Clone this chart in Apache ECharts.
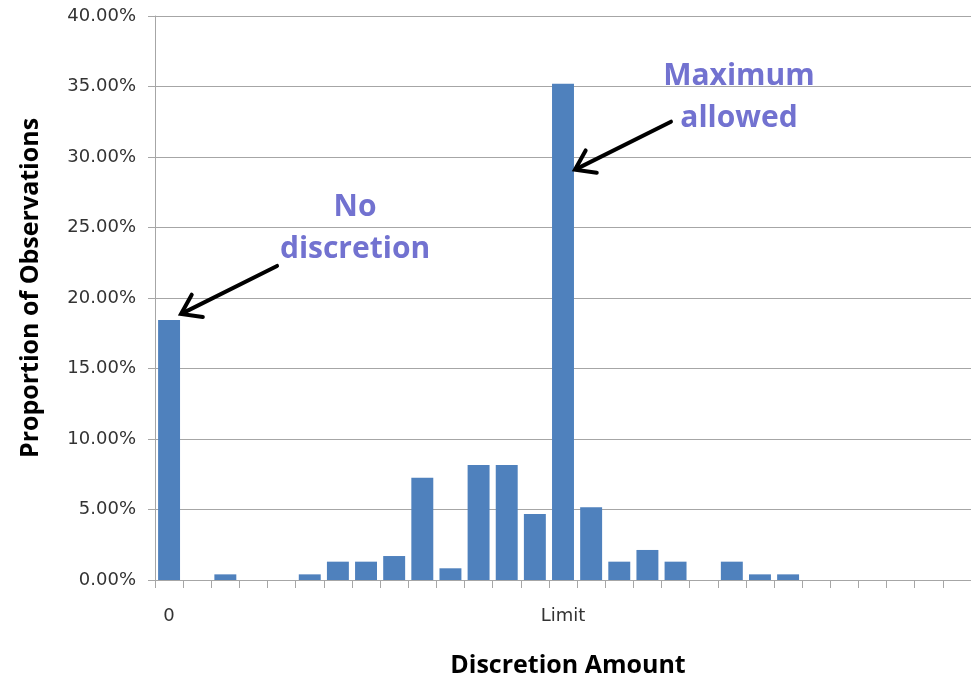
<!DOCTYPE html>
<html>
<head>
<meta charset="utf-8">
<script src="https://cdn.jsdelivr.net/npm/echarts@6/dist/echarts.min.js"></script>
<style>
  html, body { margin: 0; padding: 0; background: #fff; }
  #chart { width: 971px; height: 676px; }
</style>
</head>
<body>
<div id="chart"></div>
<script>
// Bin labels along the discretion axis: only the zero bin and the limit bin are named
const tickLabels = ['0', '', '', '', '', '', '', '', '', '', '', '', '', '', 'Limit',
                    '', '', '', '', '', '', '', '', '', '', '', '', '', ''];
// Share of observations in each bin (percent)
const proportions = [18.44, 0, 0.40, 0, 0, 0.40, 1.30, 1.30, 1.70, 7.26, 0.83, 8.16, 8.16, 4.68, 35.20,
                     5.16, 1.30, 2.13, 1.30, 0, 1.30, 0.40, 0.40, 0, 0, 0, 0, 0, 0];
// Value axis ticks (percent)
const yTicks = [0, 5, 10, 15, 20, 25, 30, 35, 40];

const bins = tickLabels.map((_, i) => 'bin' + i);

const chart = echarts.init(document.getElementById('chart'), null, { renderer: 'canvas' });

const gray = '#a6a6a6';
const labelFont = 'DejaVu Sans';
const boldFont = 'Open Sans';
const noteColor = '#7272d0';

chart.setOption({
  animation: false,
  backgroundColor: '#ffffff',
  grid: { left: 155, right: 0, top: 16, bottom: 96, containLabel: false, outerBoundsMode: 'none' },
  xAxis: {
    type: 'category',
    data: bins,
    boundaryGap: true,
    name: 'Discretion Amount',
    nameLocation: 'middle',
    nameGap: 73,
    nameTextStyle: { fontFamily: boldFont, fontWeight: 'bold', fontSize: 25, color: '#000', padding: [0, 0, 0, 10] },
    axisLine: { lineStyle: { color: gray, width: 1 } },
    axisTick: { show: true, length: 8, interval: 0, lineStyle: { color: gray } },
    axisLabel: {
      interval: 0, margin: 27,
      fontFamily: labelFont, fontSize: 18, color: '#333',
      formatter: (v, i) => tickLabels[i]
    },
    splitLine: { show: false }
  },
  yAxis: {
    type: 'value',
    min: yTicks[0],
    max: yTicks[yTicks.length - 1],
    interval: yTicks[1] - yTicks[0],
    name: 'Proportion of Observations',
    nameLocation: 'middle',
    nameGap: 112,
    nameTextStyle: { fontFamily: boldFont, fontWeight: 'bold', fontSize: 25, color: '#000', padding: [0, 0, 0, 20] },
    axisLine: { show: true, lineStyle: { color: gray, width: 1 } },
    axisTick: { show: true, length: 7, lineStyle: { color: gray } },
    axisLabel: {
      margin: 19,
      fontFamily: labelFont, fontSize: 18, color: '#333',
      formatter: v => v.toFixed(2) + '%'
    },
    splitLine: { show: true, lineStyle: { color: gray, width: 1 } }
  },
  series: [{
    type: 'bar',
    data: proportions,
    barCategoryGap: '22%',
    itemStyle: { color: '#4f81bd', borderWidth: 0 }
  }]
});

// Callout arrows and notes, anchored to points on the bars they refer to
function arrow(tip, tail) {
  const dx = tip[0] - tail[0], dy = tip[1] - tail[1];
  const len = Math.hypot(dx, dy);
  const ux = dx / len, uy = dy / len;
  const head = 22, spread = 0.6;
  const wing = s => {
    const c = Math.cos(s * spread), sn = Math.sin(s * spread);
    const bx = -ux, by = -uy;
    return [tip[0] + head * (bx * c - by * sn), tip[1] + head * (bx * sn + by * c)];
  };
  return [
    { type: 'line', shape: { x1: tail[0], y1: tail[1], x2: tip[0] - ux * 3, y2: tip[1] - uy * 3 },
      style: { stroke: '#000', lineWidth: 4, lineCap: 'round' }, z: 10 },
    { type: 'polyline', shape: { points: [wing(1), tip, wing(-1)] },
      style: { stroke: '#000', fill: null, lineWidth: 4, lineJoin: 'miter', lineCap: 'round' }, z: 10 }
  ];
}

function note(x, y, text) {
  return { type: 'text', x: x, y: y, z: 10,
    style: { text: text, fill: noteColor, font: 'bold 30px "Open Sans"', align: 'center', verticalAlign: 'middle' } };
}

const p0 = chart.convertToPixel({ xAxisIndex: 0, yAxisIndex: 0 }, [0, 0]);
const p1 = chart.convertToPixel({ xAxisIndex: 0, yAxisIndex: 0 }, [1, 0]);
const halfBar = (p1[0] - p0[0]) * 0.78 / 2;

const callouts = [
  { bin: 0, at: 18.87, lines: ['No', 'discretion'], dx: 174, dy: [-106, -64] },
  { bin: 14, at: 29.1, lines: ['Maximum', 'allowed'], dx: 164, dy: [-93, -51] }
];

const graphics = [];
callouts.forEach(c => {
  const pt = chart.convertToPixel({ xAxisIndex: 0, yAxisIndex: 0 }, [c.bin, c.at]);
  const tip = [pt[0] + halfBar + 1, pt[1]];
  const tail = [tip[0] + 96, tip[1] - 48];
  graphics.push(...arrow(tip, tail));
  graphics.push(note(tip[0] + c.dx, tip[1] + c.dy[0], c.lines[0]));
  graphics.push(note(tip[0] + c.dx, tip[1] + c.dy[1], c.lines[1]));
});

chart.setOption({ graphic: graphics });
</script>
</body>
</html>
